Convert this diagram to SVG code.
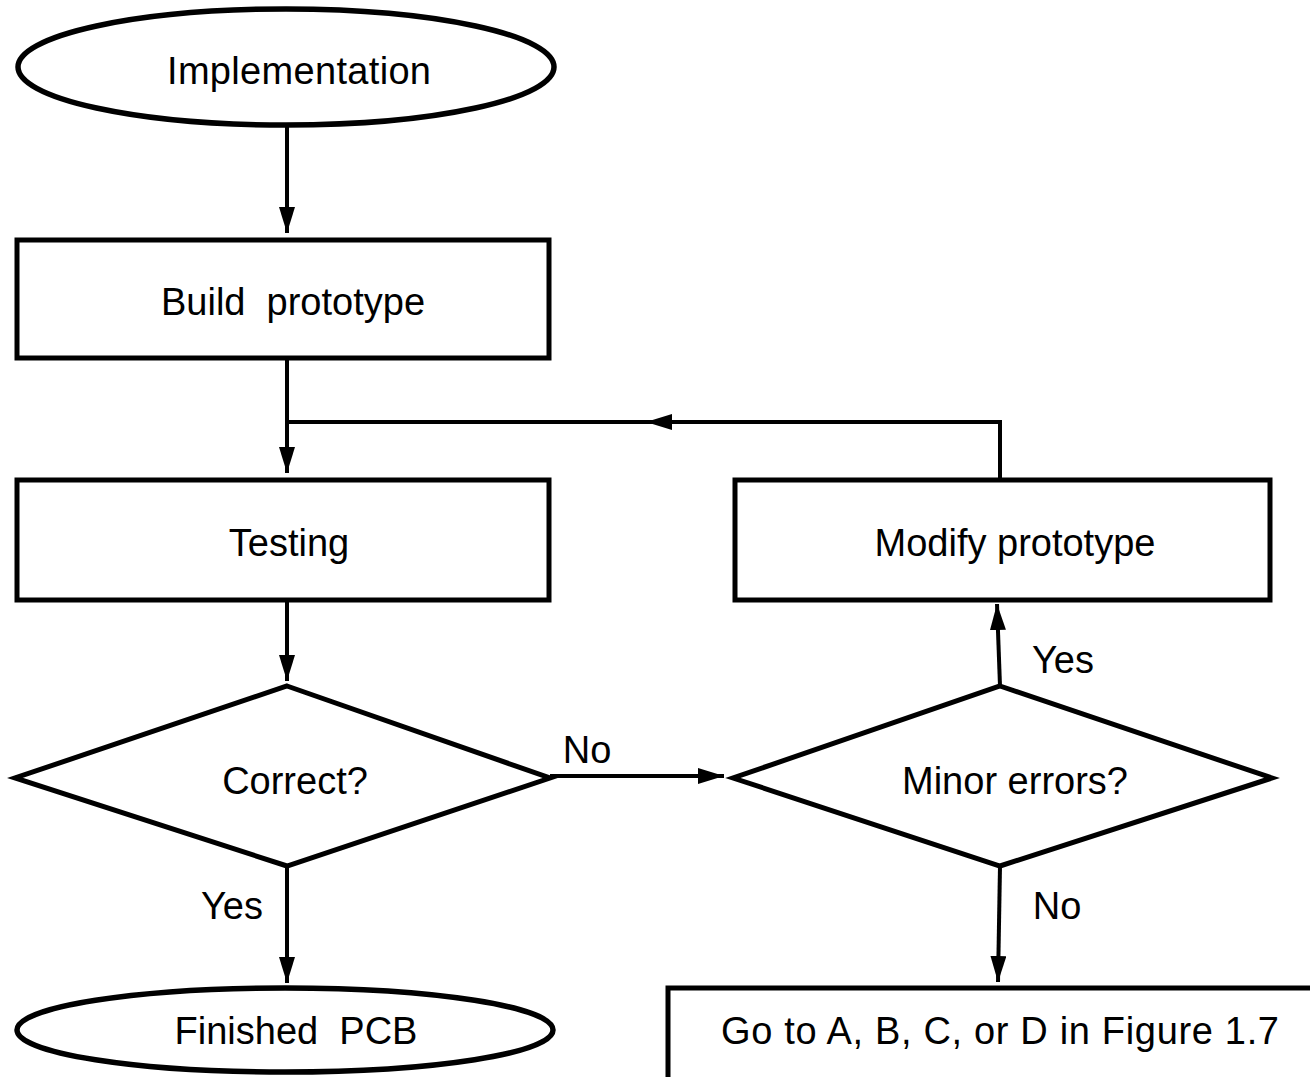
<svg xmlns="http://www.w3.org/2000/svg" width="1310" height="1077" viewBox="0 0 1310 1077">
  <style>
    .shape { fill: #fff; stroke: #000; stroke-width: 5; stroke-linejoin: miter; }
    .oval { fill: #fff; stroke: #000; stroke-width: 5.5; }
    .wire { fill: none; stroke: #000; stroke-width: 4; }
    .label { font-family: "Liberation Sans", Arial, sans-serif; font-size: 38px; fill: #000; text-anchor: middle; white-space: pre; }
  </style>
  <defs>
    <marker id="arrow" markerUnits="userSpaceOnUse" markerWidth="28" markerHeight="17" refX="26" refY="8" orient="auto">
      <path d="M0,0 L26,8 L0,16 Z" fill="#000"/>
    </marker>
  </defs>

  <rect width="1310" height="1077" fill="#fff"/>

  <!-- connectors -->
  <g id="connectors">
    <line class="wire" x1="287" y1="126" x2="287" y2="233" marker-end="url(#arrow)"/>
    <line class="wire" x1="287" y1="358" x2="287" y2="473" marker-end="url(#arrow)"/>
    <polyline class="wire" points="1000,480 1000,422 287,422"/>
    <line class="wire" x1="700" y1="422" x2="646" y2="422" marker-end="url(#arrow)"/>
    <line class="wire" x1="287" y1="600" x2="287" y2="681" marker-end="url(#arrow)"/>
    <line class="wire" x1="550" y1="776" x2="724" y2="776" marker-end="url(#arrow)"/>
    <line class="wire" x1="1000" y1="686" x2="997" y2="604" marker-end="url(#arrow)"/>
    <line class="wire" x1="287" y1="866" x2="287" y2="983" marker-end="url(#arrow)"/>
    <line class="wire" x1="1000" y1="866" x2="998" y2="982" marker-end="url(#arrow)"/>
    <text class="label" x="587" y="763">No</text>
    <text class="label" x="1063" y="673">Yes</text>
    <text class="label" x="1057" y="919">No</text>
    <text class="label" x="232" y="919">Yes</text>
  </g>

  <g id="implementation">
    <ellipse class="oval" cx="286" cy="67" rx="268" ry="58"/>
    <text class="label" x="299" y="84" textLength="264">Implementation</text>
  </g>

  <g id="build-prototype">
    <rect class="shape" x="17" y="240" width="532" height="118"/>
    <text class="label" x="293" y="315">Build  prototype</text>
  </g>

  <g id="testing">
    <rect class="shape" x="17" y="480" width="532" height="120"/>
    <text class="label" x="289" y="556">Testing</text>
  </g>

  <g id="modify-prototype">
    <rect class="shape" x="735" y="480" width="535" height="120"/>
    <text class="label" x="1015" y="556">Modify prototype</text>
  </g>

  <g id="correct">
    <polygon class="shape" points="287,686 550,778 287,866 15,778"/>
    <text class="label" x="295" y="794">Correct?</text>
  </g>

  <g id="minor-errors">
    <polygon class="shape" points="1000,686 1272,778 1000,866 733,778"/>
    <text class="label" x="1015" y="794">Minor errors?</text>
  </g>

  <g id="finished-pcb">
    <ellipse class="oval" cx="285" cy="1030" rx="268" ry="42"/>
    <text class="label" x="296" y="1044">Finished  PCB</text>
  </g>

  <g id="go-to">
    <rect class="shape" x="668" y="988" width="660" height="100"/>
    <text class="label" x="1000" y="1044" textLength="558">Go to A, B, C, or D in Figure 1.7</text>
  </g>
</svg>
